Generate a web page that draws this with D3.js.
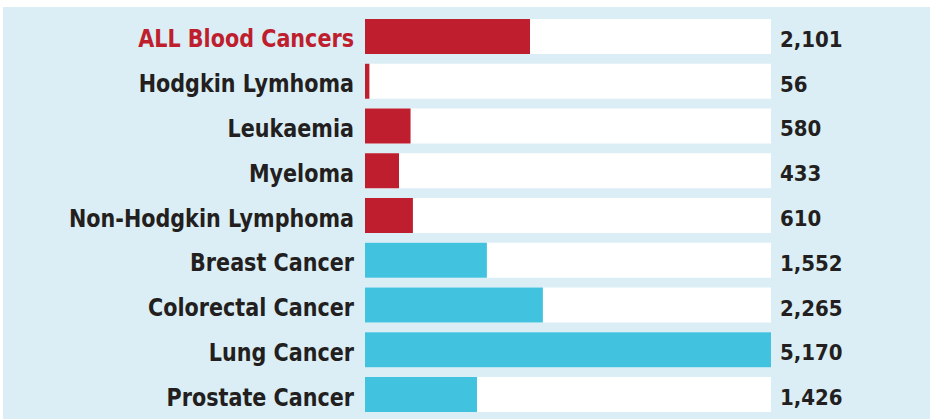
<!DOCTYPE html>
<html><head><meta charset="utf-8">
<script src="https://cdn.jsdelivr.net/npm/d3@7/dist/d3.min.js"></script>
<style>
html,body{margin:0;padding:0;background:#fff;}
svg{display:block;}
text{font-family:"DejaVu Sans Condensed","DejaVu Sans",sans-serif;font-weight:bold;}
</style></head>
<body>
<script>
const categories = ["ALL Blood Cancers","Hodgkin Lymhoma","Leukaemia","Myeloma","Non-Hodgkin Lymphoma","Breast Cancer","Colorectal Cancer","Lung Cancer","Prostate Cancer"];
const values = [2101,56,580,433,610,1552,2265,5170,1426];
const groups = ["blood","blood","blood","blood","blood","other","other","other","other"];
const valueLabels = ["2,101","56","580","433","610","1,552","2,265","5,170","1,426"];

const W = 930, H = 419;
const svg = d3.select("body").append("svg").attr("width", W).attr("height", H);
svg.append("rect").attr("x", 3).attr("y", 7).attr("width", W - 3).attr("height", H - 7).attr("fill", "#dbeef5");

const x = d3.scaleLinear().domain([0, d3.max(values)]).range([365, 771]);
const y = d3.scaleBand().domain(categories).range([19, 412]).paddingInner(0.218).paddingOuter(0);
const color = d3.scaleOrdinal().domain(["blood","other"]).range(["#be1e2d","#41c3e0"]);

const rows = svg.selectAll("g.row").data(categories).join("g").attr("class","row");
rows.append("rect").attr("x", x(0)).attr("y", d => y(d)).attr("width", x.range()[1] - x(0)).attr("height", y.bandwidth()).attr("fill", "#fff");
rows.append("rect").attr("x", x(0)).attr("y", d => y(d)).attr("width", (d,i) => x(values[i]) - x(0)).attr("height", y.bandwidth()).attr("fill", (d,i) => color(groups[i]));
rows.append("text")
  .attr("transform", d => `translate(354,${y(d) + y.bandwidth()/2 + 11}) scale(0.94,1)`)
  .attr("text-anchor","end")
  .attr("font-size", 24.5).attr("fill", (d,i) => i === 0 ? "#be1e2d" : "#231f20").text(d => d);
rows.append("text").attr("x", 780).attr("y", d => y(d) + y.bandwidth()/2 + 10.5).attr("text-anchor","start")
  .attr("font-size", 22).attr("fill", "#231f20").text((d,i) => valueLabels[i]);
</script>
</body></html>
